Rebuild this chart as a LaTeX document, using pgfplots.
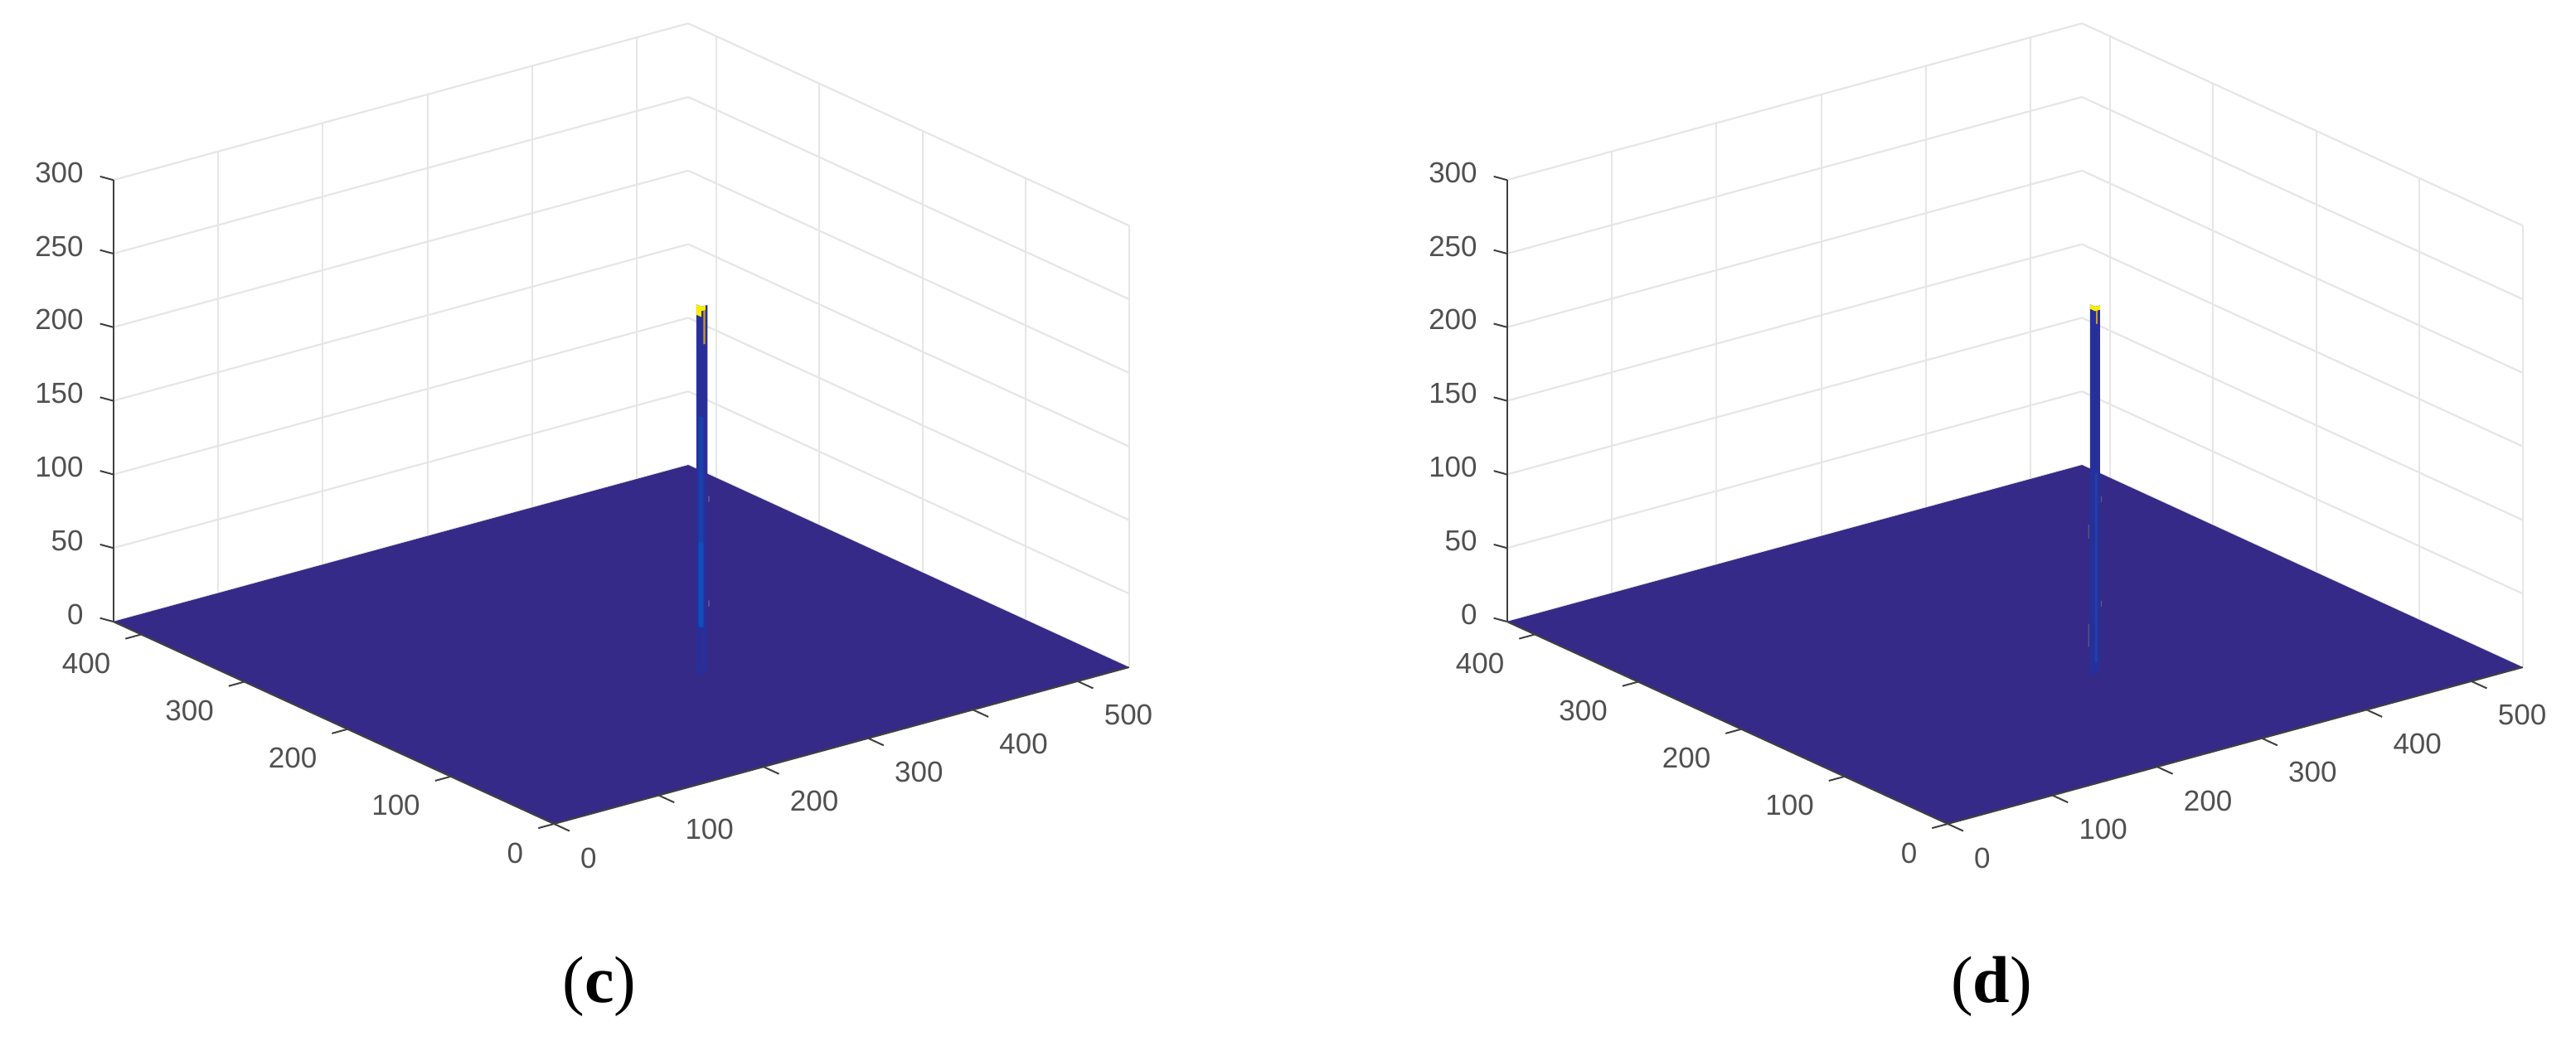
\documentclass[border=0pt]{standalone}
\usepackage{pgfplots}
\pgfplotsset{compat=1.18}
\usepackage{fontspec}
\setmainfont{Liberation Sans}
\newfontfamily\capfont{Liberation Serif}
\definecolor{floorc}{HTML}{352A87}
\definecolor{colc}{HTML}{26309A}
\definecolor{colr}{HTML}{2A2F98}
\definecolor{streak}{HTML}{0A50BE}
\definecolor{streakb}{HTML}{1A40AC}
\definecolor{streakd}{HTML}{2040A8}
\definecolor{faint}{HTML}{2E2C90}
\definecolor{gridc}{HTML}{E6E6E6}
\definecolor{axc}{HTML}{404040}
\definecolor{txtc}{HTML}{505050}
\definecolor{yel}{HTML}{F8EE00}
\definecolor{ora}{HTML}{C8A020}
\definecolor{speck}{HTML}{5F5488}
\pgfplotsset{panel/.style={
  anchor=origin,
  x={(0.6316pt,0.1721pt)}, y={(-0.6224pt,0.2857pt)}, z={(0pt,0.888pt)},
  xmin=0,xmax=549,ymin=0,ymax=427,zmin=0,zmax=300,
  xtick={0,100,200,300,400,500}, ytick={0,100,200,300,400},
  ztick={0,50,100,150,200,250,300},
  grid=major, major grid style={draw=gridc,line width=1.1pt},
  axis line style={draw=none},
  tick style={draw=none},
  major tick length=0pt,
  clip=false,
  /pgf/number format/assume math mode=true,
  ticklabel style={font=\fontsize{17.5}{20}\selectfont,text=txtc,inner sep=0pt,outer sep=0pt},
  xticklabel style={anchor=west,xshift=16pt,yshift=-20.5pt},
  yticklabel style={anchor=east,xshift=-18.5pt,yshift=-17.5pt},
  zticklabel style={anchor=east,xshift=-18pt,yshift=4.5pt},
},
tk/.style={draw=axc,line width=1pt,no markers,forget plot}}
\newcommand{\frameaxes}{%
  \addplot3[fill=floorc,draw=none] coordinates {(0,0,0)(549,0,0)(549,427,0)(0,427,0)};
  \addplot3[tk] coordinates {(0,427,0)(0,427,300)};
  \addplot3[tk] coordinates {(0,427,0)(0,0,0)(549,0,0)};
  \pgfplotsinvokeforeach{0,100,200,300,400,500}{\addplot3[tk] coordinates {(##1,0,0)(##1,-15,0)};}
  \pgfplotsinvokeforeach{0,100,200,300,400}{\addplot3[tk] coordinates {(0,##1,0)(-15,##1,0)};}
  \pgfplotsinvokeforeach{0,50,100,150,200,250,300}{\addplot3[tk] coordinates {(0,427,##1)(-3.3,436.5,##1)};}
}
\begin{document}
\begin{tikzpicture}
\useasboundingbox (0,0) rectangle (1553.5pt,631pt);
\begin{axis}[panel,at={(334.1pt,134pt)}]
\frameaxes
% spike (c)
\addplot3[fill=colc,draw=none] coordinates {(283,144.5,0)(283,149.3,0)(283,149.3,250)(283,144.5,250)};
\addplot3[fill=colr,draw=none] coordinates {(283,144.5,0)(289,144.5,0)(289,144.5,250)(283,144.5,250)};
\addplot3[fill=faint,draw=none] coordinates {(283,144.5,4)(283,147,4)(283,147,32)(283,144.5,32)};
\addplot3[fill=streak,draw=none] coordinates {(283,144.5,32)(283,147,32)(283,147,90)(283,144.5,90)};
\addplot3[fill=streak,draw=none] coordinates {(283,144.5,32)(285,144.5,32)(285,144.5,90)(283,144.5,90)};
\addplot3[fill=streakb,draw=none] coordinates {(283,144.5,90)(283,147,90)(283,147,175)(283,144.5,175)};
\addplot3[fill=streakb,draw=none] coordinates {(283,144.5,90)(285,144.5,90)(285,144.5,175)(283,144.5,175)};
\addplot3[fill=ora,draw=none] coordinates {(285,144.5,224)(286.8,144.5,224)(286.8,144.5,248)(285,144.5,248)};
\addplot3[fill=yel,draw=none] coordinates {(283,144.5,243)(283,149.3,243)(283,149.3,250)(283,144.5,250)};
\addplot3[fill=yel,draw=none] coordinates {(283,144.5,247)(287,144.5,247)(287,144.5,250)(283,144.5,250)};
\addplot3[fill=speck,draw=none] coordinates {(289.5,144.5,116)(291,144.5,116)(291,144.5,120)(289.5,144.5,120)};
\addplot3[fill=speck,draw=none] coordinates {(289.5,144.5,45)(291,144.5,45)(291,144.5,49)(289.5,144.5,49)};
\end{axis}
\begin{axis}[panel,at={(1174.6pt,134pt)}]
\frameaxes
% spike (d)
\addplot3[fill=colc,draw=none] coordinates {(283,144.5,0)(283,149.3,0)(283,149.3,250)(283,144.5,250)};
\addplot3[fill=colr,draw=none] coordinates {(283,144.5,0)(287.8,144.5,0)(287.8,144.5,250)(283,144.5,250)};
\addplot3[fill=streakd,draw=none] coordinates {(283,144.5,8)(285.2,144.5,8)(285.2,144.5,137)(283,144.5,137)};
\addplot3[fill=ora,draw=none] coordinates {(284,144.5,238)(285.4,144.5,238)(285.4,144.5,248)(284,144.5,248)};
\addplot3[fill=yel,draw=none] coordinates {(283,144.5,247)(283,149.3,247)(283,149.3,250)(283,144.5,250)};
\addplot3[fill=yel,draw=none] coordinates {(283,144.5,247)(287.8,144.5,247)(287.8,144.5,250)(283,144.5,250)};
\addplot3[fill=speck,draw=none] coordinates {(288.5,144.5,116)(289.6,144.5,116)(289.6,144.5,120)(288.5,144.5,120)};
\addplot3[fill=speck,draw=none] coordinates {(288.5,144.5,45)(289.6,144.5,45)(289.6,144.5,49)(288.5,144.5,49)};
\addplot3[fill=speck,draw=none] coordinates {(283,150,90.5)(283,151,90.5)(283,151,100)(283,150,100)};
\addplot3[fill=speck,draw=none] coordinates {(283,150,17)(283,151,17)(283,151,32.5)(283,150,32.5)};
\end{axis}
\node[font=\capfont\fontsize{40}{44}\selectfont] at (361.5pt,36pt) {(\textbf{c})};
\node[font=\capfont\fontsize{40}{44}\selectfont] at (1201pt,36pt) {(\textbf{d})};
\end{tikzpicture}
\end{document}
